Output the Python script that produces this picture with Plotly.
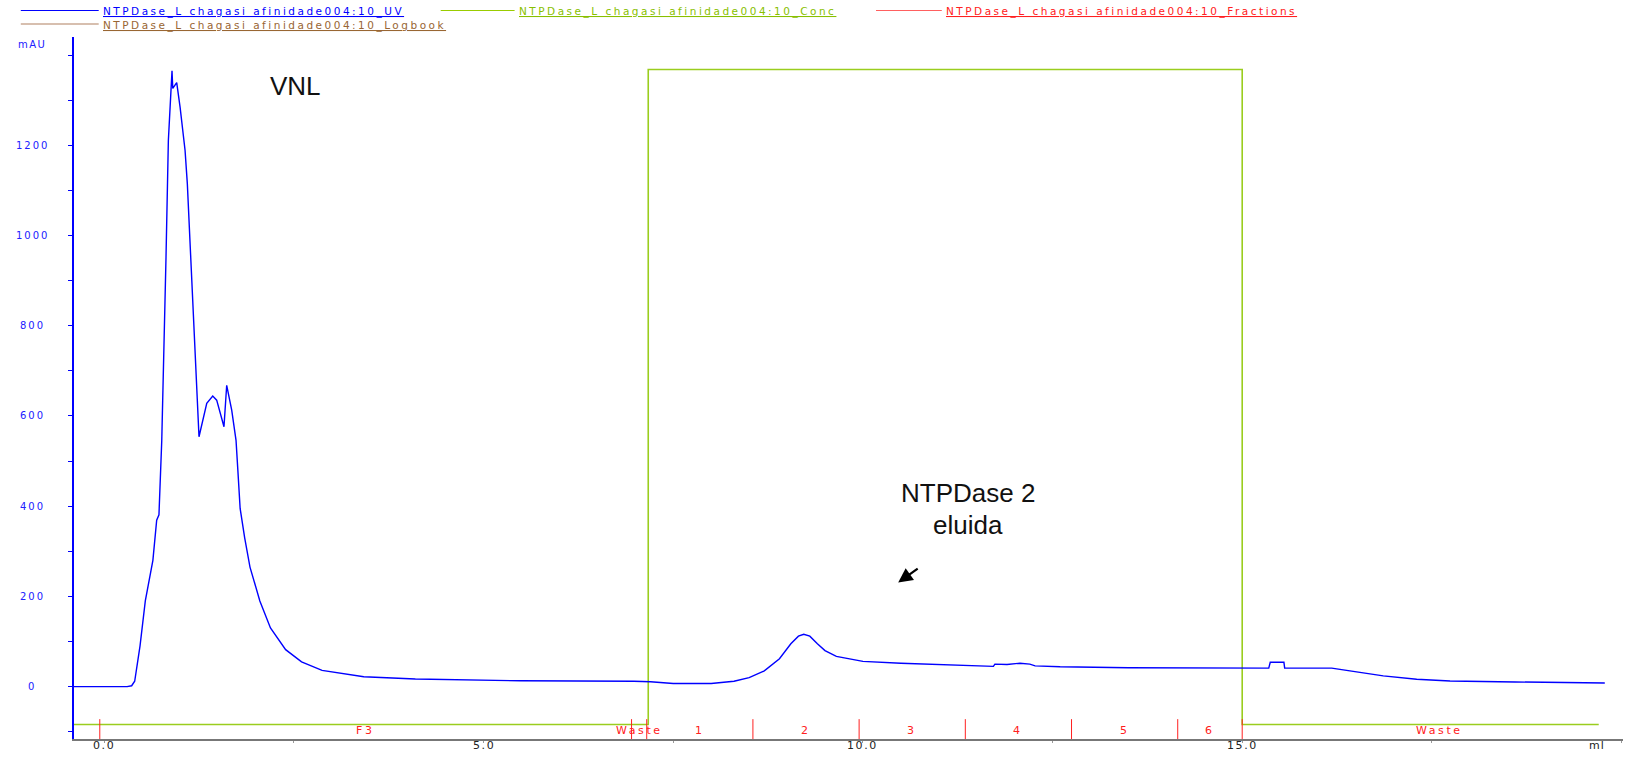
import plotly.graph_objects as go

# UV trace (ml, mAU)
uv_ml = [-0.40, 0.30, 0.36, 0.40, 0.47, 0.54, 0.64, 0.69, 0.72, 0.757, 0.813, 0.844,
         0.892, 0.902, 0.954, 0.998, 1.064, 1.094, 1.248, 1.350, 1.429, 1.481, 1.577,
         1.613, 1.679, 1.736, 1.76, 1.79, 1.85, 1.92, 2.05, 2.19, 2.39, 2.60, 2.87,
         3.42, 4.10, 5.48, 6.98, 7.20, 7.50, 8.00, 8.30, 8.50, 8.70, 8.90, 9.05, 9.15,
         9.22, 9.30, 9.40, 9.50, 9.65, 9.85, 10.00, 10.50, 11.00, 11.50, 11.72, 11.74,
         11.90, 12.07, 12.20, 12.27, 12.60, 13.50, 14.50, 15.35, 15.37, 15.55, 15.56,
         16.18, 16.42, 16.86, 17.30, 17.74, 18.60, 19.78]
uv_mau = [0, 0, 2, 12, 90, 190, 280, 369, 381, 546, 952, 1211,
          1365, 1326, 1339, 1285, 1189, 1115, 554, 628, 644, 635, 576,
          668, 613, 546, 480, 395, 330, 265, 190, 130, 82, 55, 36,
          22, 17, 13, 12, 11, 7, 7, 12, 20, 35, 62, 95, 112,
          116, 112, 95, 80, 67, 60, 56, 52, 49, 46, 45, 50,
          49, 52, 50, 46, 44, 42, 41, 41, 54, 54, 41,
          41, 35, 24, 16.4, 12.6, 10.4, 8.2]

# Concentration step
conc_ml = [-0.40, 7.17, 7.17, 15.0, 15.0, 19.70]
conc_val = [-84, -84, 1368, 1368, -84, -84]

# Fraction boundaries and labels
frac_edges = [-0.06, 6.95, 7.15, 8.55, 9.95, 11.35, 12.75, 14.15, 15.0]
frac_labels = ["F3", "Waste", "1", "2", "3", "4", "5", "6", "Waste"]
frac_end = 20.2

y_tick_vals = [0, 200, 400, 600, 800, 1000, 1200]
x_tick_vals = [0, 5, 10, 15]
x_tick_text = ["0.0", "5.0", "10.0", "15.0"]

legend_names = ["NTPDase_L chagasi afinidade004:10_UV",
                "NTPDase_L chagasi afinidade004:10_Conc",
                "NTPDase_L chagasi afinidade004:10_Fractions",
                "NTPDase_L chagasi afinidade004:10_Logbook"]

BLUE = "#0000ff"
GREEN = "#9acd1e"
RED = "#ff2020"
BROWN = "#996633"

W, H = 1630, 757
ML, MR, MT, MB = 74, 7, 37, 18
PW, PH = W - ML - MR, H - MT - MB
X_RANGE = [-0.40, 20.02]
Y_RANGE = [-116, 1440]


def px_x(p):
    return (p - ML) / PW


def px_y(p):
    return 1 - (p - MT) / PH


def spaced(s, ls):
    return '<span style="letter-spacing:%.1fpx">%s</span>' % (ls, s)


fig = go.Figure()

fig.add_trace(go.Scatter(x=conc_ml, y=conc_val, mode="lines",
                         line=dict(color=GREEN, width=1.6), hoverinfo="skip"))

# fraction tick marks
fx, fy = [], []
for e in frac_edges:
    fx += [e, e, None]
    fy += [-72, Y_RANGE[0], None]
fig.add_trace(go.Scatter(x=fx, y=fy, mode="lines",
                         line=dict(color=RED, width=1), hoverinfo="skip"))

fig.add_trace(go.Scatter(x=uv_ml, y=uv_mau, mode="lines",
                         line=dict(color=BLUE, width=1.4), hoverinfo="skip"))

annotations = []

# fraction labels centred within each fraction
edges_all = frac_edges + [frac_end]
for i, lab in enumerate(frac_labels):
    c = (edges_all[i] + edges_all[i + 1]) / 2
    annotations.append(dict(x=c, y=-98, xref="x", yref="y", text=spaced(lab, 2.6),
                            showarrow=False,
                            font=dict(family="DejaVu Sans", size=11, color=RED),
                            xanchor="center", yanchor="middle"))

# y tick labels, centred in the left margin
ylab_font = dict(family="DejaVu Sans", size=10, color="#2020ff")
for v in y_tick_vals:
    annotations.append(dict(x=px_x(32), y=v, xref="paper", yref="y",
                            text=spaced(str(v), 2.0), showarrow=False,
                            xanchor="center", yanchor="middle", font=ylab_font))
annotations.append(dict(x=px_x(32), y=px_y(44), xref="paper", yref="paper",
                        text=spaced("mAU", 1.5), showarrow=False, xanchor="center",
                        yanchor="middle", font=ylab_font))

# x tick labels just under the axis line
xlab_font = dict(family="DejaVu Sans", size=11, color="#222222")
for v, t in zip(x_tick_vals, x_tick_text):
    annotations.append(dict(x=v, y=px_y(746), xref="x", yref="paper",
                            text=spaced(t, 1.6), showarrow=False, xanchor="center",
                            yanchor="middle", font=xlab_font))
annotations.append(dict(x=px_x(1597), y=px_y(746), xref="paper", yref="paper",
                        text=spaced("ml", 1.0), showarrow=False, xanchor="center",
                        yanchor="middle", font=xlab_font))

# peak labels
big = dict(family="Liberation Sans, Arial", size=26, color="#111111")
annotations.append(dict(x=px_x(295), y=px_y(85.5), xref="paper", yref="paper",
                        text="VNL", showarrow=False, xanchor="center",
                        yanchor="middle", font=big))
annotations.append(dict(x=px_x(968), y=px_y(493), xref="paper", yref="paper",
                        text="NTPDase 2", showarrow=False, xanchor="center",
                        yanchor="middle", font=big))
annotations.append(dict(x=px_x(968), y=px_y(525), xref="paper", yref="paper",
                        text="eluida", showarrow=False, xanchor="center",
                        yanchor="middle", font=big))
annotations.append(dict(x=10.465, y=231, xref="x", yref="y", ax=21, ay=-15,
                        text="", showarrow=True, arrowhead=2, arrowsize=1.3,
                        arrowwidth=2.2, arrowcolor="#000000"))

# legend rows drawn at the top edge
shapes = []
legend_rows = [
    (20.8, 98.7, 11.5, BLUE, legend_names[0], BLUE),
    (440.7, 514.6, 11.5, "#99cc00", legend_names[1], "#88c000"),
    (876.0, 941.8, 11.5, "#ff6060", legend_names[2], "#ff2020"),
    (20.8, 98.7, 25.0, "#b08060", legend_names[3], BROWN),
]
for x0, x1, yy, lc, name, tc in legend_rows:
    shapes.append(dict(type="line", xref="paper", yref="paper",
                       x0=px_x(x0), x1=px_x(x1), y0=px_y(yy - 1), y1=px_y(yy - 1),
                       line=dict(color=lc, width=1.2)))
    annotations.append(dict(x=px_x(x1 + 3), y=px_y(yy), xref="paper", yref="paper",
                            text="<u>" + spaced(name, 2.5) + "</u>", showarrow=False,
                            xanchor="left", yanchor="middle", borderpad=0,
                            font=dict(family="DejaVu Sans", size=10.5, color=tc)))

fig.update_layout(
    template="none",
    width=W, height=H,
    margin=dict(l=ML, r=MR, t=MT, b=MB, pad=0, autoexpand=False),
    paper_bgcolor="white", plot_bgcolor="white",
    showlegend=False,
    annotations=annotations,
    shapes=shapes,
    xaxis=dict(range=X_RANGE, showgrid=False, zeroline=False, showline=True,
               automargin=False, linecolor="#777777", linewidth=1.5,
               tickvals=x_tick_vals, showticklabels=False,
               ticks="outside", ticklen=2, tickcolor="#999999",
               minor=dict(tickvals=[2.5, 7.5, 12.5, 17.5, 20], ticks="outside",
                          ticklen=2, tickcolor="#999999")),
    yaxis=dict(range=Y_RANGE, showgrid=False, zeroline=False, showline=True,
               automargin=False, linecolor=BLUE, linewidth=2, ticks="outside",
               ticklen=4, tickcolor=BLUE, dtick=100, tick0=0, showticklabels=False),
)

fig.write_html("out.html")
